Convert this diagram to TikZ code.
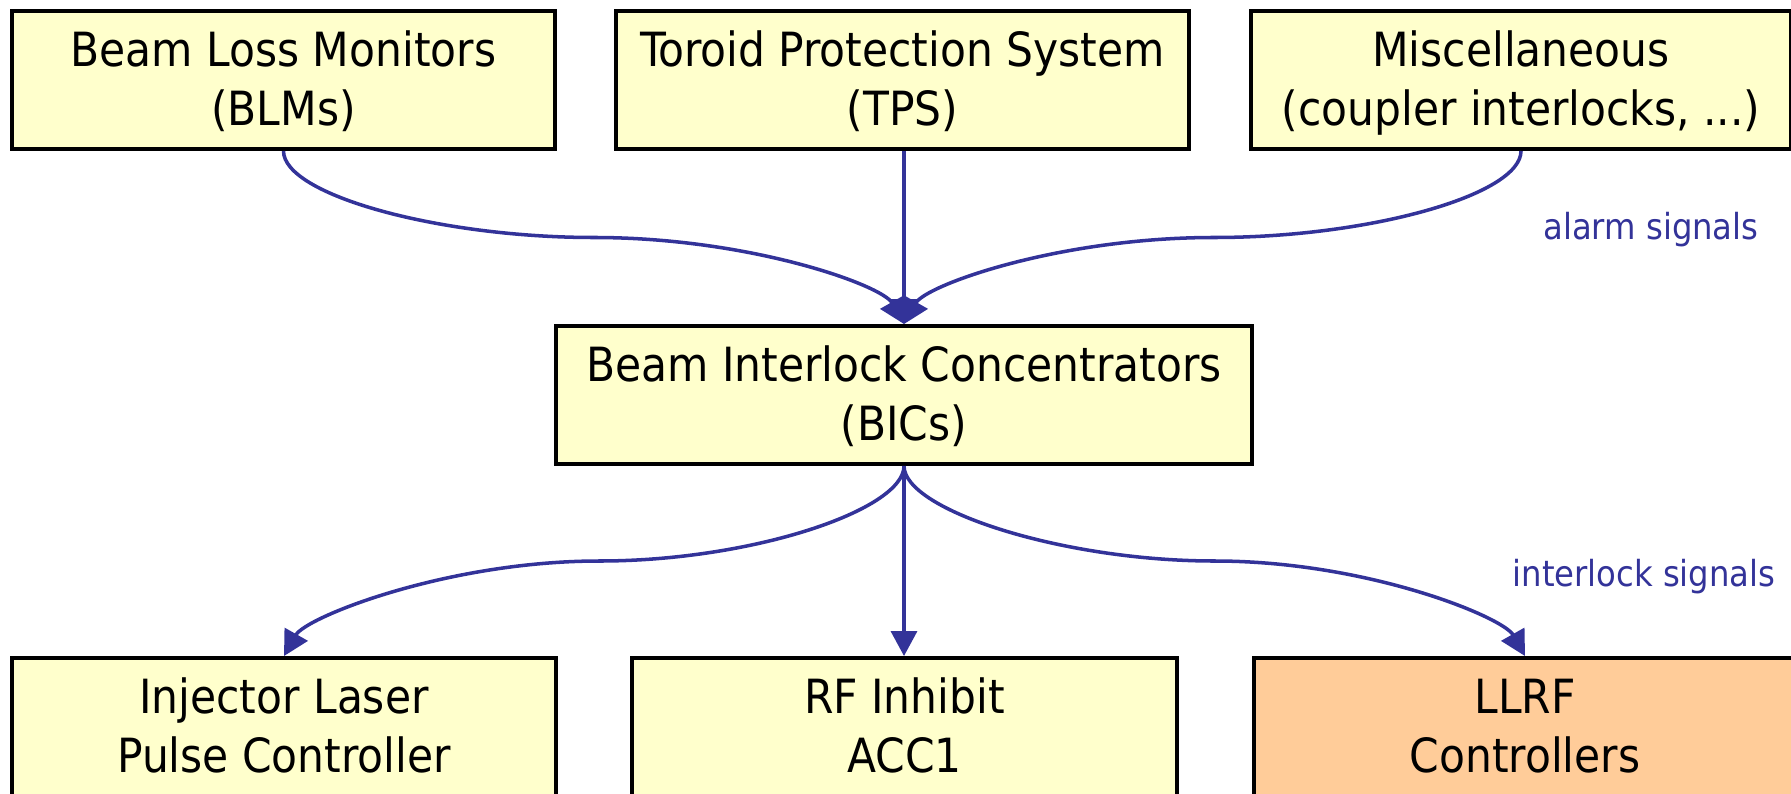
\documentclass[tikz,border=0pt]{standalone}
\usepackage{fontspec}
\setmainfont{DejaVu Sans Condensed}
\usetikzlibrary{arrows.meta,calc}
\definecolor{boxfill}{HTML}{FFFFCC}
\definecolor{llrffill}{HTML}{FFCC99}
\definecolor{sigblue}{HTML}{333399}
\tikzset{
  unit/.style={draw=black, line width=1.1pt, fill=boxfill, align=center,
    inner sep=0pt, font=\fontsize{13.4}{16.6}\selectfont,
    text height=25.6pt, text depth=0pt, minimum height=1.38cm},
  link/.style={draw=sigblue, line width=1pt,
    -{Triangle[length=0.25cm,width=0.26cm]}},
  siglabel/.style={text=sigblue, font=\fontsize{10.2}{12}\selectfont,
    anchor=base, inner sep=0pt}
}
\begin{document}
\begin{tikzpicture}[x=0.01cm,y=-0.01cm]
\useasboundingbox (0,0) rectangle (1791,794);

% sources of alarm signals
\node[unit, minimum width=5.43cm] (blm)  at (283.5,80) {Beam Loss Monitors\\(BLMs)};
\node[unit, minimum width=5.73cm] (tps)  at (902.5,80) {Toroid Protection System\\(TPS)};
\node[unit, minimum width=5.40cm] (misc) at (1521,80)  {Miscellaneous\\(coupler interlocks, ...)};

% concentrator
\node[unit, minimum width=6.96cm] (bic) at (904,395) {Beam Interlock Concentrators\\(BICs)};

% receivers of interlock signals
\node[unit, minimum width=5.44cm] (inj)  at (284,727)   {Injector Laser\\Pulse Controller};
\node[unit, minimum width=5.45cm] (rf)   at (904.5,727) {RF Inhibit\\ACC1};
\node[unit, minimum width=5.42cm, fill=llrffill] (llrf) at (1525,727) {LLRF\\Controllers};

% turning points of the curved connectors
\coordinate (tl) at (594,237.5);
\coordinate (tr) at (1214,237.5);
\coordinate (bl) at (599.5,561);
\coordinate (br) at (1214.5,561);

% alarm signals into the BICs
\draw[link] (blm.south) .. controls ($(blm.south)+(0,44)$) and ($(tl)+(-155,0)$) .. (tl)
  .. controls ($(tl)+(155,0)$) and ($(bic.north)+(-22,-39)$) .. (bic.north);
\draw[link] (bic.north |- tps.south) -- (bic.north);
\draw[link] (misc.south) .. controls ($(misc.south)+(0,44)$) and ($(tr)+(155,0)$) .. (tr)
  .. controls ($(tr)+(-155,0)$) and ($(bic.north)+(22,-39)$) .. (bic.north);

% interlock signals out of the BICs
\draw[link] (bic.south) .. controls ($(bic.south)+(0,44)$) and ($(bl)+(152,0)$) .. (bl)
  .. controls ($(bl)+(-152,0)$) and ($(inj.north)+(22,-39)$) .. (inj.north);
\draw[link] (bic.south) -- (bic.south |- rf.north);
\draw[link] (bic.south) .. controls ($(bic.south)+(0,44)$) and ($(br)+(-152,0)$) .. (br)
  .. controls ($(br)+(152,0)$) and ($(llrf.north)+(-22,-39)$) .. (llrf.north);

\node[siglabel] (alarm) at (1651,239) {alarm signals};
\node[siglabel] (ilk)   at (1644,586) {interlock signals};
\end{tikzpicture}
\end{document}
